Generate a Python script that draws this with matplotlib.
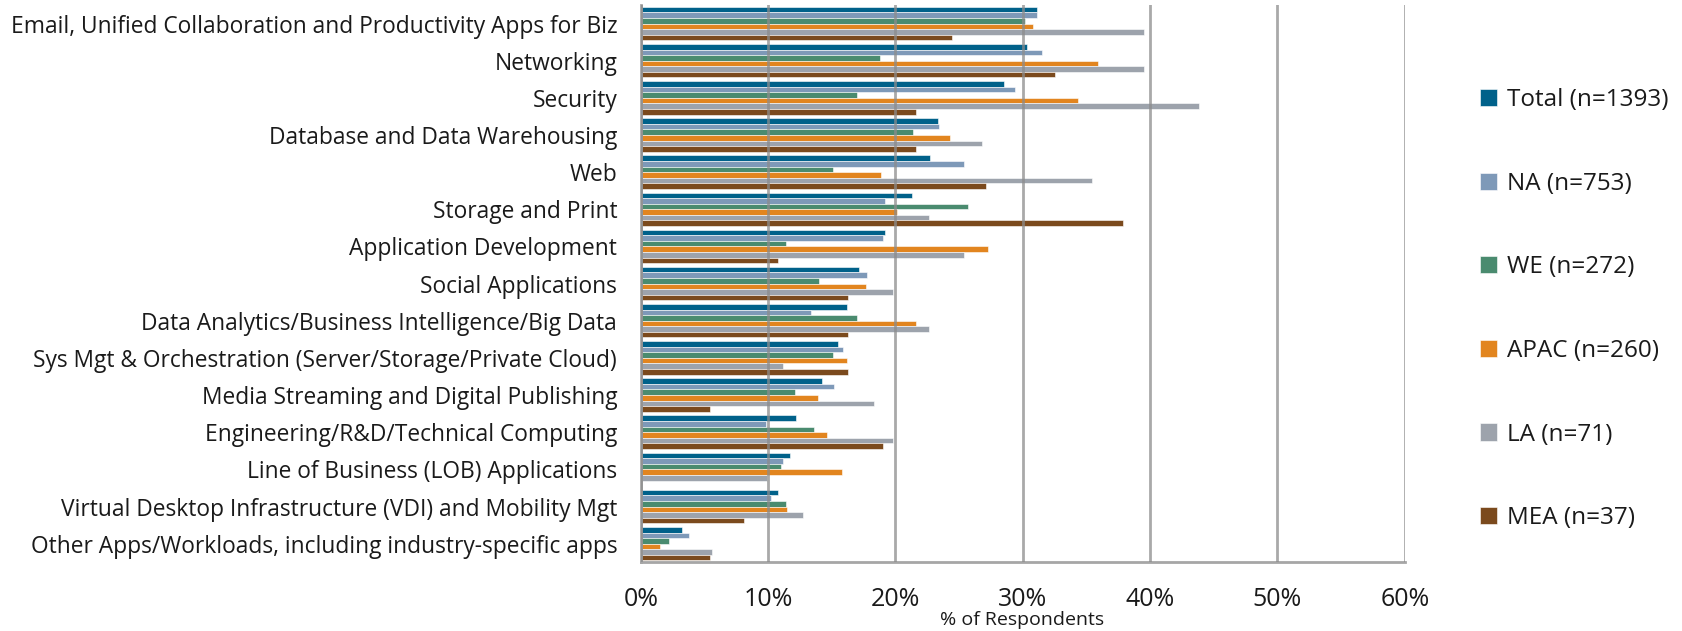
import numpy as np
import matplotlib.pyplot as plt
from matplotlib.ticker import PercentFormatter

plt.rcParams['font.family'] = ['Open Sans', 'DejaVu Sans']

categorias = [
    "Email, Unified Collaboration and Productivity Apps for Biz",
    "Networking",
    "Security",
    "Database and Data Warehousing",
    "Web",
    "Storage and Print",
    "Application Development",
    "Social Applications",
    "Data Analytics/Business Intelligence/Big Data",
    "Sys Mgt & Orchestration (Server/Storage/Private Cloud)",
    "Media Streaming and Digital Publishing",
    "Engineering/R&D/Technical Computing",
    "Line of Business (LOB) Applications",
    "Virtual Desktop Infrastructure (VDI) and Mobility Mgt",
    "Other Apps/Workloads, including industry-specific apps",
]

# valores em % de respondentes
total = [31.1, 30.3, 28.5, 23.3, 22.7, 21.3, 19.2, 17.1, 16.2, 15.5, 14.2, 12.2, 11.7, 10.8, 3.2]
na    = [31.1, 31.5, 29.4, 23.4, 25.4, 19.2, 19.0, 17.8, 13.4, 15.9, 15.2, 9.8, 11.2, 10.2, 3.8]
we    = [30.2, 18.8, 17.0, 21.4, 15.1, 25.7, 11.4, 14.0, 17.0, 15.1, 12.1, 13.6, 11.0, 11.4, 2.2]
apac  = [30.8, 35.9, 34.3, 24.3, 18.9, 20.1, 27.3, 17.7, 21.6, 16.2, 13.9, 14.6, 15.8, 11.5, 1.5]
la    = [39.5, 39.5, 43.8, 26.8, 35.4, 22.6, 25.4, 19.8, 22.6, 11.2, 18.3, 19.8, 9.9, 12.7, 5.6]
mea   = [24.4, 32.5, 21.6, 21.6, 27.1, 37.9, 10.8, 16.3, 16.3, 16.3, 5.4, 19.0, 0.0, 8.1, 5.4]

series = [
    ("Total (n=1393)", total, "#00618A"),
    ("NA (n=753)",     na,    "#7E99B8"),
    ("WE (n=272)",     we,    "#4A8B6F"),
    ("APAC (n=260)",   apac,  "#E2851F"),
    ("LA (n=71)",      la,    "#9DA3AC"),
    ("MEA (n=37)",     mea,   "#7B4A1D"),
]

fig = plt.figure(figsize=(16.82, 6.31), dpi=100)
ax = fig.add_axes([0.381, 0.109, 0.4542, 0.883])

n = len(categorias)
y = np.arange(n)
h = 0.15
for i, (nome, vals, cor) in enumerate(series):
    ax.barh(y - 0.375 + i * h, vals, height=h, color=cor, label=nome,
            edgecolor='white', linewidth=0.4, zorder=2)

ax.set_ylim(n - 0.5, -0.5)
ax.set_xlim(0, 60)
ax.set_xticks(range(0, 61, 10))
ax.xaxis.set_major_formatter(PercentFormatter(decimals=0))
ax.set_yticks(y)
ax.set_yticklabels(categorias)

ax.grid(axis='x', color='#8C8C8C', linewidth=2, alpha=0.75, zorder=3)
ax.set_axisbelow(False)
for s in ['top', 'right']:
    ax.spines[s].set_visible(False)
for s in ['left', 'bottom']:
    ax.spines[s].set_color('#A6A6A6')
    ax.spines[s].set_linewidth(2)

ax.tick_params(axis='y', length=0, pad=17, labelsize=16.4, labelcolor='#1A1A1A')
ax.tick_params(axis='x', length=0, pad=18, labelsize=18, labelcolor='#1A1A1A')

fig.text(1022 / 1682, 1 - 620 / 631, "% of Respondents", ha='center', va='center',
         fontsize=14, color='#1A1A1A')

fig.legend(loc='center left', bbox_to_anchor=(1458 / 1682, 0.51), frameon=False,
           fontsize=17.5, handlelength=0.7, handleheight=0.7, handletextpad=0.4,
           labelspacing=2.45, labelcolor='#1A1A1A')

plt.savefig("out.png", dpi=100)
plt.close()
